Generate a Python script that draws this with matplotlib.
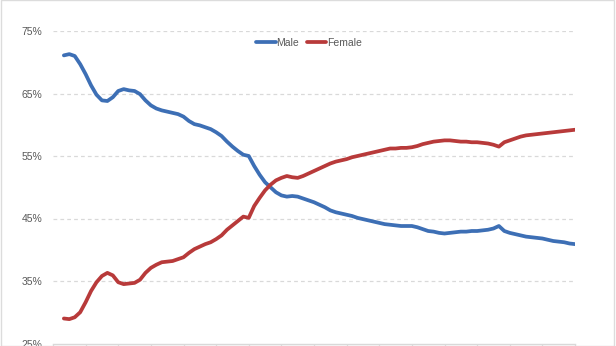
import matplotlib
matplotlib.use("Agg")
import matplotlib.pyplot as plt
from matplotlib.patches import Rectangle
import numpy as np

# Share of each group (%), one value per period
male = [71.1, 71.3, 71.0, 69.7, 68.1, 66.3, 64.8, 63.9, 63.8, 64.4,
        65.4, 65.7, 65.5, 65.4, 64.9, 63.9, 63.1, 62.6, 62.3, 62.1,
        61.9, 61.7, 61.3, 60.6, 60.1, 59.9, 59.6, 59.3, 58.8, 58.2,
        57.3, 56.5, 55.8, 55.2, 55.0, 53.4, 52.0, 50.8, 50.0, 49.2,
        48.7, 48.5, 48.6, 48.5, 48.2, 47.9, 47.6, 47.2, 46.8, 46.3,
        46.0, 45.8, 45.6, 45.4, 45.1, 44.9, 44.7, 44.5, 44.3, 44.1,
        44.0, 43.9, 43.8, 43.8, 43.8, 43.6, 43.3, 43.0, 42.9, 42.7,
        42.6, 42.7, 42.8, 42.9, 42.9, 43.0, 43.0, 43.1, 43.2, 43.4,
        43.8, 43.0, 42.7, 42.5, 42.3, 42.1, 42.0, 41.9, 41.8, 41.6,
        41.4, 41.3, 41.2, 41.0, 40.9]

female = [29.0, 28.9, 29.2, 30.0, 31.6, 33.4, 34.8, 35.8, 36.3, 35.9,
          34.8, 34.5, 34.6, 34.7, 35.2, 36.3, 37.1, 37.6, 38.0, 38.1,
          38.2, 38.5, 38.8, 39.5, 40.1, 40.5, 40.9, 41.2, 41.7, 42.3,
          43.2, 43.9, 44.6, 45.3, 45.1, 47.0, 48.3, 49.5, 50.4, 51.1,
          51.5, 51.8, 51.6, 51.5, 51.8, 52.2, 52.6, 53.0, 53.4, 53.8,
          54.1, 54.3, 54.5, 54.8, 55.0, 55.2, 55.4, 55.6, 55.8, 56.0,
          56.2, 56.2, 56.3, 56.3, 56.4, 56.6, 56.9, 57.1, 57.3, 57.4,
          57.5, 57.5, 57.4, 57.3, 57.3, 57.2, 57.2, 57.1, 57.0, 56.8,
          56.5, 57.2, 57.5, 57.8, 58.1, 58.3, 58.4, 58.5, 58.6, 58.7,
          58.8, 58.9, 59.0, 59.1, 59.2]

series_names = ["Male", "Female"]
y_ticks = [25, 35, 45, 55, 65, 75]
y_tick_labels = ["25%", "35%", "45%", "55%", "65%", "75%"]

first_period = 2
periods_per_tick = 6
n_ticks = 17

plt.rcParams["font.family"] = ["Liberation Sans", "DejaVu Sans"]

fig = plt.figure(figsize=(6.16, 3.46), dpi=100)
fig.patches.append(Rectangle((0.002, 0.0), 0.995, 0.999, transform=fig.transFigure,
                             fill=False, edgecolor="#dcdcdc", linewidth=1.0))

ax = fig.add_axes([53 / 616, 2.5 / 346, 522 / 616, 312.5 / 346])

x = np.arange(first_period, first_period + len(male))
ax.plot(x, male, color="#3d6fb5", lw=2.7, label=series_names[0],
        solid_capstyle="round", solid_joinstyle="round")
ax.plot(x, female, color="#b83a3a", lw=2.7, label=series_names[1],
        solid_capstyle="round", solid_joinstyle="round")

ax.set_xlim(0, periods_per_tick * (n_ticks - 1))
ax.set_ylim(25, 75)

ax.set_xticks(np.arange(n_ticks) * periods_per_tick)
ax.set_xticklabels([])
ax.set_yticks(y_ticks)
ax.set_yticklabels(y_tick_labels)

for v in y_ticks[1:]:
    ax.axhline(v, color="#d9d9d9", lw=0.9, dashes=(3, 2.5), zorder=0)

for side in ("left", "right", "top"):
    ax.spines[side].set_visible(False)
ax.spines["bottom"].set_color("#d9d9d9")
ax.spines["bottom"].set_linewidth(1.0)

ax.tick_params(axis="x", direction="out", length=3, width=0.9, color="#d9d9d9")
ax.tick_params(axis="y", length=0, pad=7.5, labelsize=7.5, labelcolor="#595959")

leg = ax.legend(loc="center", bbox_to_anchor=(309 / 616, 1 - 43 / 346),
                bbox_transform=fig.transFigure, ncol=2, frameon=False,
                fontsize=7.5, handlelength=1.9, handletextpad=0.1,
                columnspacing=0.7, borderpad=0)
for t in leg.get_texts():
    t.set_color("#595959")
for h in leg.get_lines():
    h.set_linewidth(2.7)

fig.savefig("out.png", dpi=100)
